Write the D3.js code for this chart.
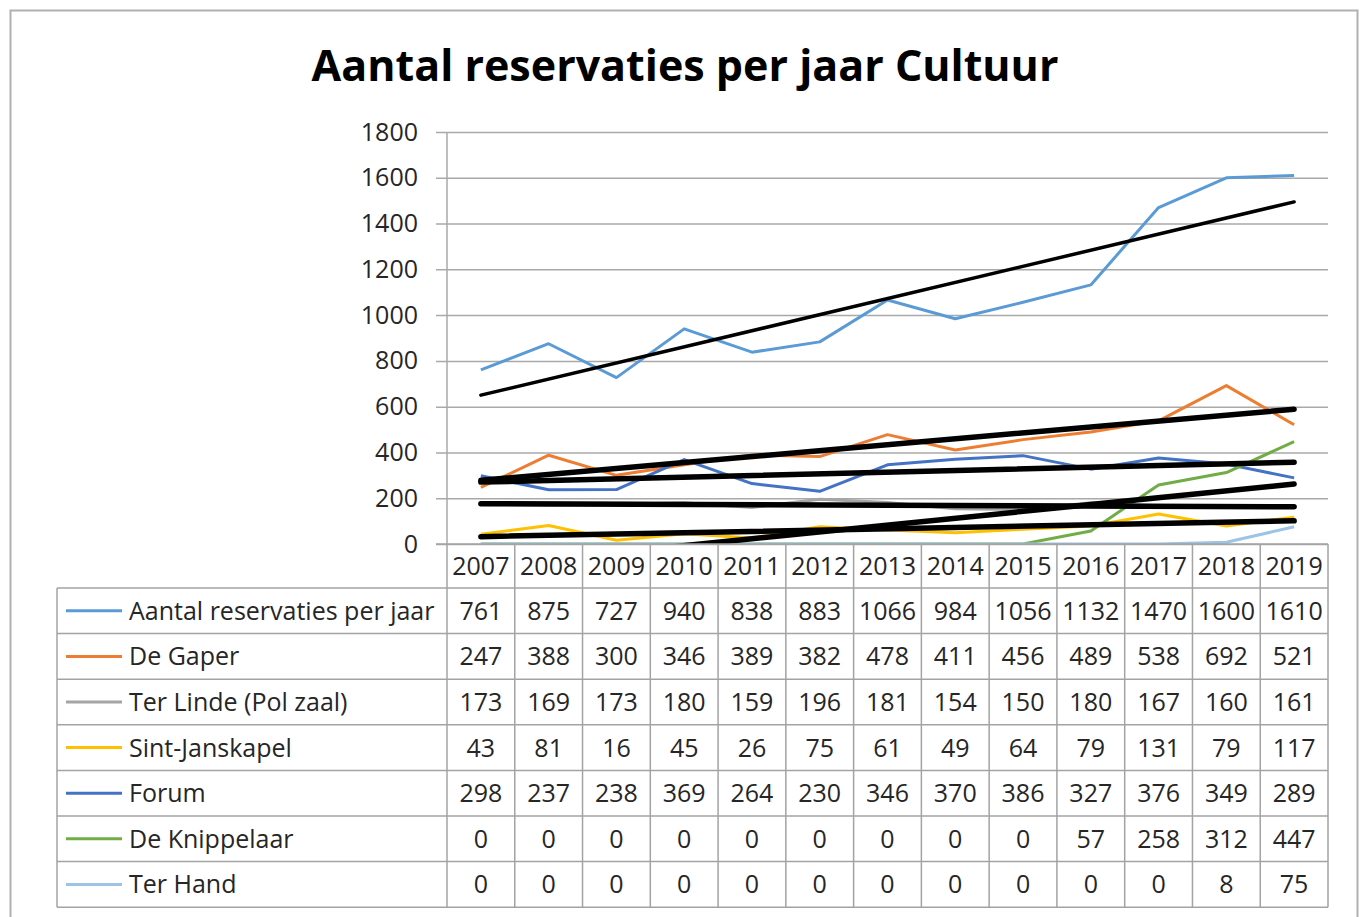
<!DOCTYPE html>
<html>
<head>
<meta charset="utf-8">
<script src="https://cdn.jsdelivr.net/npm/d3@7"></script>
<style>
  body { margin: 0; background: #fff; }
  text { font-family: "Open Sans", "DejaVu Sans", sans-serif; fill: #262626; }
</style>
</head>
<body>
<svg id="chart" width="1362" height="917"></svg>
<script>
// Reservations per venue, 2007–2019
const years = ["2007","2008","2009","2010","2011","2012","2013","2014","2015","2016","2017","2018","2019"];
const seriesNames = ["Aantal reservaties per jaar","De Gaper","Ter Linde (Pol zaal)","Sint-Janskapel","Forum","De Knippelaar","Ter Hand"];
const aantalReservaties = [761,875,727,940,838,883,1066,984,1056,1132,1470,1600,1610];
const deGaper          = [247,388,300,346,389,382,478,411,456,489,538,692,521];
const terLinde         = [173,169,173,180,159,196,181,154,150,180,167,160,161];
const sintJanskapel    = [43,81,16,45,26,75,61,49,64,79,131,79,117];
const forum            = [298,237,238,369,264,230,346,370,386,327,376,349,289];
const deKnippelaar     = [0,0,0,0,0,0,0,0,0,57,258,312,447];
const terHand          = [0,0,0,0,0,0,0,0,0,0,0,8,75];
const yTicks = [0,200,400,600,800,1000,1200,1400,1600,1800];
const chartTitle = "Aantal reservaties per jaar Cultuur";

const seriesValues = [aantalReservaties, deGaper, terLinde, sintJanskapel, forum, deKnippelaar, terHand];
const seriesColors = ["#5b9bd5","#ed7d31","#a5a5a5","#ffc000","#4472c4","#70ad47","#9dc3e6"];
const withTrend    = [true, true, true, true, true, true, false];

const svg = d3.select("#chart");

// layout
const plot = { left: 447, right: 1328, top: 132, bottom: 544 };
const table = { left: 57, headerTop: 544, rowH: 45.6, headerH: 44 };
const fontSize = 25;
const gridColor = "#a9a9a9";

// outer frame
svg.append("rect")
  .attr("x", 10.5).attr("y", 10.5)
  .attr("width", 1347).attr("height", 960)
  .attr("fill", "none").attr("stroke", "#b0b0b0").attr("stroke-width", 2);

// title
svg.append("text")
  .attr("x", 685).attr("y", 81)
  .attr("text-anchor", "middle")
  .style("font-size", "43px").style("font-weight", "700")
  .style("fill", "#000")
  .text(chartTitle);

// scales
const x = d3.scaleBand().domain(years).range([plot.left, plot.right]).paddingInner(0).paddingOuter(0);
const cx = d => x(d) + x.bandwidth() / 2;
const y = d3.scaleLinear().domain([0, 1800]).range([plot.bottom, plot.top]);

// y axis: tick marks that continue as gridlines across the plot
const yAxis = d3.axisLeft(y)
  .tickValues(yTicks)
  .tickFormat(d3.format("d"))
  .tickSizeInner(-(plot.right - (plot.left - 11)))
  .tickSizeOuter(0)
  .tickPadding(18);

const gy = svg.append("g")
  .attr("transform", `translate(${plot.left - 11},0)`)
  .call(yAxis);
gy.select(".domain").remove();
gy.selectAll(".tick line").attr("stroke", gridColor).attr("stroke-width", 1.5);
gy.selectAll(".tick text")
  .style("font-size", fontSize + "px")
  .style("font-family", "\"Open Sans\", sans-serif")
  .attr("fill", "#262626");

// vertical value axis line
svg.append("line")
  .attr("x1", plot.left).attr("x2", plot.left)
  .attr("y1", plot.top).attr("y2", plot.bottom)
  .attr("stroke", gridColor).attr("stroke-width", 1.5);

// clip region for the lines
svg.append("clipPath").attr("id", "plotClip")
  .append("rect")
  .attr("x", plot.left).attr("y", plot.top - 5)
  .attr("width", plot.right - plot.left).attr("height", plot.bottom - plot.top + 5);

const linesG = svg.append("g").attr("clip-path", "url(#plotClip)");

const line = d3.line()
  .x((d, i) => cx(years[i]))
  .y(d => y(d));

// series lines
seriesValues.forEach((vals, s) => {
  linesG.append("path")
    .datum(vals)
    .attr("d", line)
    .attr("fill", "none")
    .attr("stroke", seriesColors[s])
    .attr("stroke-width", 3)
    .attr("stroke-linejoin", "round");
});

// linear trendlines (least squares on year index)
function linearFit(vals) {
  const n = vals.length;
  const xs = d3.range(n);
  const mx = d3.mean(xs), my = d3.mean(vals);
  const sxy = d3.sum(xs, (xi, i) => (xi - mx) * (vals[i] - my));
  const sxx = d3.sum(xs, xi => (xi - mx) * (xi - mx));
  const slope = sxy / sxx;
  return i => my + slope * (i - mx);
}

seriesValues.forEach((vals, s) => {
  if (!withTrend[s]) return;
  const f = linearFit(vals);
  const n = vals.length;
  linesG.append("line")
    .attr("x1", cx(years[0])).attr("y1", y(f(0)))
    .attr("x2", cx(years[n - 1])).attr("y2", y(f(n - 1)))
    .attr("stroke", "#000")
    .attr("stroke-width", s === 0 ? 3.5 : 5.5)
    .attr("stroke-linecap", "round");
});

// data table
const tableBottom = table.headerTop + table.headerH + table.rowH * seriesNames.length;
const rowTop = i => table.headerTop + table.headerH + table.rowH * i;
const tableG = svg.append("g");
const borderColor = "#a3a3a3";

// horizontal category axis / header top
tableG.append("line")
  .attr("x1", plot.left - 11).attr("x2", plot.right)
  .attr("y1", table.headerTop).attr("y2", table.headerTop)
  .attr("stroke", borderColor).attr("stroke-width", 1.5);

// row separators
d3.range(seriesNames.length + 1).forEach(i => {
  tableG.append("line")
    .attr("x1", table.left).attr("x2", plot.right)
    .attr("y1", rowTop(i)).attr("y2", rowTop(i))
    .attr("stroke", borderColor).attr("stroke-width", 1.5);
});

// column separators
years.concat(["end"]).forEach((yr, j) => {
  const xx = plot.left + x.bandwidth() * j;
  tableG.append("line")
    .attr("x1", xx).attr("x2", xx)
    .attr("y1", table.headerTop).attr("y2", tableBottom)
    .attr("stroke", borderColor).attr("stroke-width", 1.5);
});
tableG.append("line")
  .attr("x1", table.left).attr("x2", table.left)
  .attr("y1", rowTop(0)).attr("y2", tableBottom)
  .attr("stroke", borderColor).attr("stroke-width", 1.5);

// year header
tableG.selectAll("text.year")
  .data(years)
  .join("text")
  .attr("class", "year")
  .attr("x", d => cx(d))
  .attr("y", table.headerTop + table.headerH / 2)
  .attr("dy", "0.36em")
  .attr("text-anchor", "middle")
  .style("font-size", fontSize + "px")
  .text(d => d);

// legend keys + names + values
seriesNames.forEach((name, s) => {
  const mid = rowTop(s) + table.rowH / 2;
  tableG.append("line")
    .attr("x1", 66).attr("x2", 122)
    .attr("y1", mid).attr("y2", mid)
    .attr("stroke", seriesColors[s]).attr("stroke-width", 3);
  tableG.append("text")
    .attr("x", 129).attr("y", mid).attr("dy", "0.36em")
    .style("font-size", fontSize + "px")
    .text(name);
  tableG.selectAll(null)
    .data(seriesValues[s])
    .join("text")
    .attr("x", (d, i) => cx(years[i]))
    .attr("y", mid).attr("dy", "0.36em")
    .attr("text-anchor", "middle")
    .style("font-size", fontSize + "px")
    .text(d => d);
});
</script>
</body>
</html>
